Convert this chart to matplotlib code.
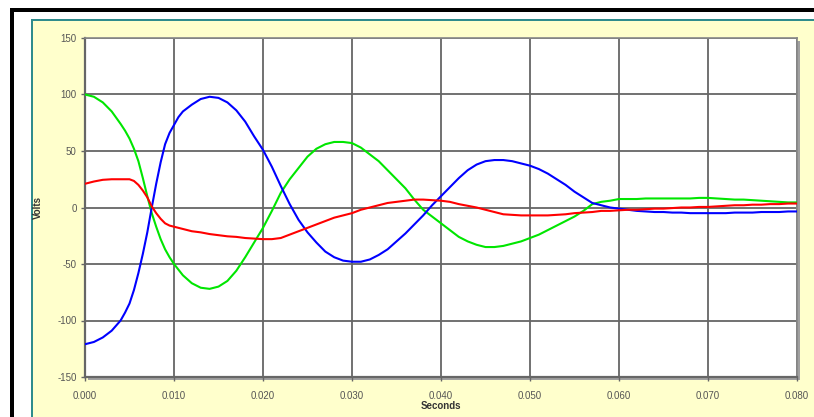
import numpy as np
import matplotlib
matplotlib.use("Agg")
import matplotlib.pyplot as plt
from matplotlib.patches import Rectangle
from matplotlib.ticker import FuncFormatter

plt.rcParams["font.family"] = ["Liberation Sans", "DejaVu Sans"]

# tempo em ms, meio ms na parte mais ingreme
t_ms = [0, 1, 2, 3, 4, 4.5, 5, 5.5, 6, 6.5, 7, 7.5, 8, 8.5, 9, 9.5, 10, 10.5] + list(range(11, 81))

verde = [100, 98, 93, 85, 74, 68, 61, 52, 41, 26, 10, -5, -17, -28, -37, -44,
         -50, -55, -60, -67, -71, -72, -70, -65, -56, -44, -31,
         -18, -3, 13, 25, 35, 45, 52, 56, 58, 58,
         57, 53, 47, 41, 33, 25, 17, 7, -2, -8,
         -14, -20, -26, -30, -33, -35, -35, -34, -32, -30,
         -27, -24, -20, -16, -12, -8, -3, 3, 5, 6,
         7.5, 7.5, 7.5, 8, 8, 8, 8, 8, 8, 8.5,
         8.5, 8, 7.5, 7, 7, 6.5, 6, 5.5, 5, 4.5, 4.5]

azul = [-121, -119, -115, -109, -100, -93, -85, -73, -58, -41, -22, 0, 21, 40, 56, 66,
        73, 80, 85, 91, 96, 98, 97, 93, 86, 76, 63,
        51, 36, 19, 3, -11, -22, -31, -39, -44, -47,
        -48, -48, -46, -42, -37, -30, -23, -15, -7, 2,
        10, 18, 26, 33, 38, 41, 42, 42, 41, 39,
        37, 34, 30, 25, 20, 14, 9, 4, 2, 0,
        -1, -2, -3, -3.5, -4, -4, -4.5, -4.5, -5, -5,
        -5, -5, -5, -4.5, -4.5, -4.5, -4, -4, -4, -3.5, -3.5]

vermelho = [21, 23, 24.5, 25, 25, 25, 25, 23.5, 20, 15, 9, 1, -5, -10, -14, -16,
            -17, -18, -19, -21, -22, -23.5, -24.5, -25.5, -26, -27, -27.5,
            -28, -28, -27, -24, -21, -18, -15, -12, -9, -7,
            -5, -2, 0, 2, 4, 5, 6, 7, 7, 6.5,
            6, 5, 3, 1.5, 0, -2, -4, -6, -6.5, -7,
            -7, -7, -7, -6.5, -6, -5, -4.5, -4, -3, -3,
            -2.5, -2, -2, -1.5, -1, -1, -0.5, 0, 0, 0.5,
            0.5, 1, 1.5, 2, 2, 2.5, 2.5, 3, 3, 3.5, 3.5]

t = np.array(t_ms) / 1000.0

W, H = 814, 417
fig = plt.figure(figsize=(W / 100, H / 100), dpi=100)
fig.patch.set_facecolor("white")

# moldura estilo excel
def px_rect(x0, y0, x1, y1, cor):
    fig.patches.append(Rectangle((x0 / W, 1 - y1 / H), (x1 - x0) / W, (y1 - y0) / H,
                                 transform=fig.transFigure, facecolor=cor,
                                 edgecolor="none", zorder=-10))

px_rect(10, 8, W, 12, "black")
px_rect(10, 8, 14, H, "black")
px_rect(31, 19, W, 21, "#2f8c8c")
px_rect(31, 19, 33, H, "#2f8c8c")
px_rect(33, 21, W, H, "#ffffcc")
# sombra da area do grafico
px_rect(797, 41, 800, 380, "#a0a0a0")
px_rect(88, 377, 800, 380, "#a0a0a0")

ax = fig.add_axes([85 / W, 1 - 377 / H, (797 - 85) / W, (377 - 38) / H])
ax.set_zorder(5)
ax.set_facecolor("white")

ax.plot(t, verde, color="#00e600", lw=1.5, zorder=3)
ax.plot(t, azul, color="#0000ff", lw=1.5, zorder=3)
ax.plot(t, vermelho, color="#ff0000", lw=1.5, zorder=3)

ax.set_xlim(0, 0.08)
ax.set_ylim(-150, 150)
ax.set_xticks(np.arange(0, 0.0801, 0.01))
ax.set_yticks(np.arange(-150, 151, 50))
ax.xaxis.set_major_formatter(FuncFormatter(lambda v, p: f"{v:.3f}"))
ax.yaxis.set_major_formatter(FuncFormatter(lambda v, p: f"{v:.0f}"))
ax.grid(True, color="#666666", lw=1.3)
ax.set_axisbelow(True)

for lado in ["left", "bottom"]:
    ax.spines[lado].set_color("#666666")
    ax.spines[lado].set_linewidth(1.6)
for lado in ["right", "top"]:
    ax.spines[lado].set_color("#888888")
    ax.spines[lado].set_linewidth(1.2)

ax.tick_params(direction="out", length=3, width=1, color="#666666",
               labelsize=7, labelcolor="#555555")
ax.tick_params(axis="x", pad=7)
ax.tick_params(axis="y", pad=3)

ax.set_xlabel("Seconds", fontsize=7, fontweight="bold", color="#333333", labelpad=0)
ax.set_ylabel("Volts", fontsize=7, fontweight="bold", color="#333333")
ax.yaxis.set_label_coords((43 - 85) / (797 - 85), 0.5)

plt.savefig("out.png", dpi=100)
